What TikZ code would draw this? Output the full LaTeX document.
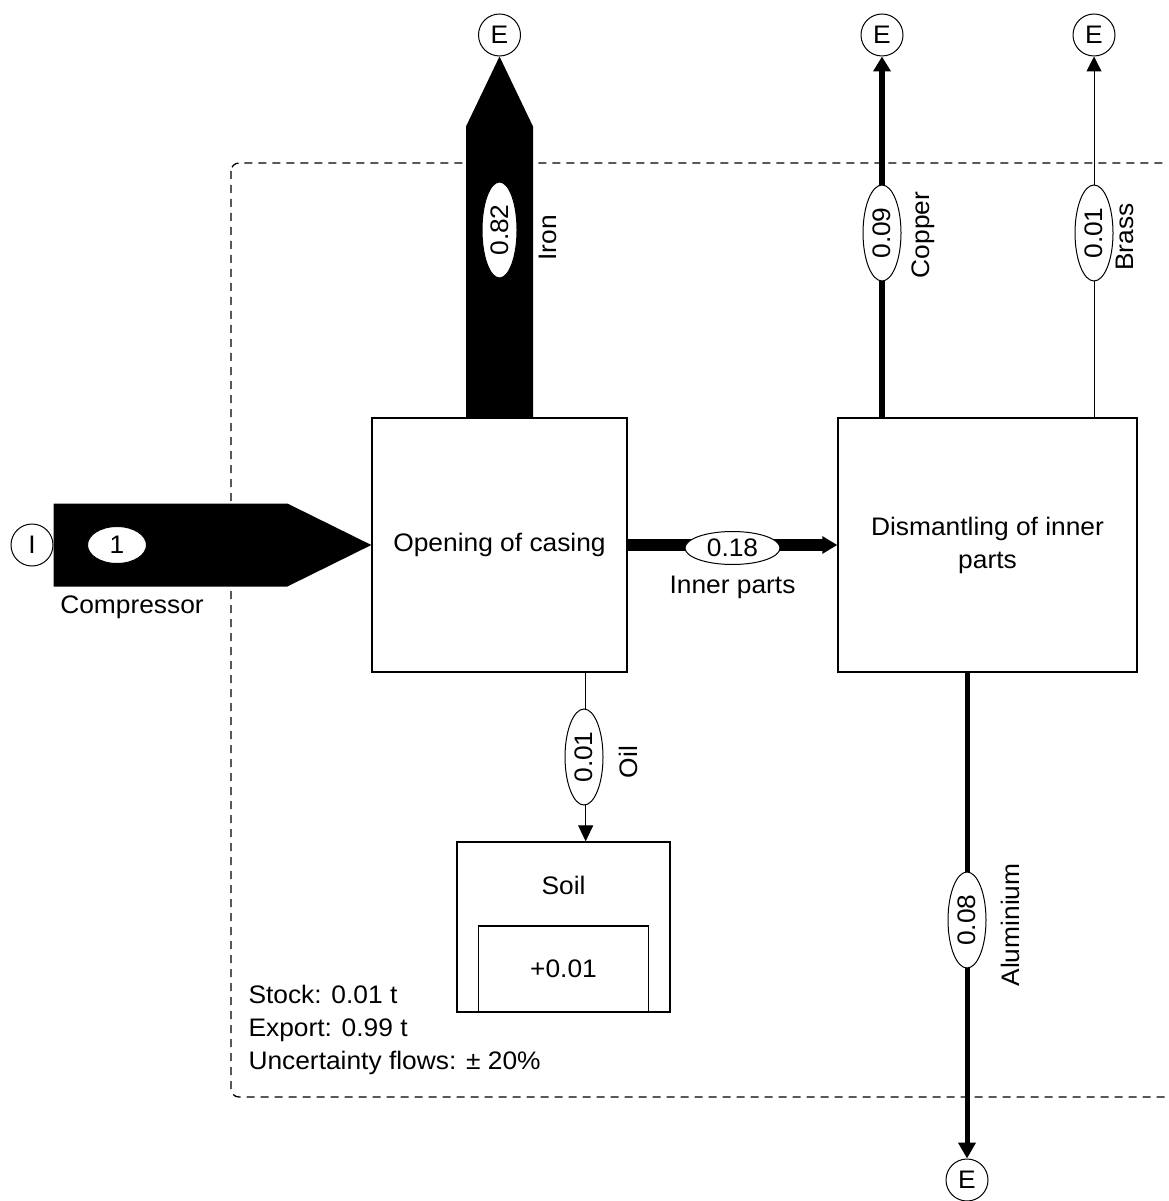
\documentclass[tikz,border=0pt]{standalone}
\usepackage{fontspec}
\setmainfont{Liberation Sans}[FakeStretch=1.04]
\usetikzlibrary{calc,shapes.geometric,arrows.meta}

\tikzset{every picture/.style={line width=0.75pt}}
\tikzset{
  txt/.style={font=\fontsize{19}{24.75}\selectfont},
  terminal/.style={draw, circle, minimum size=31.5pt, inner sep=0pt, txt},
  process/.style={draw, line width=1pt, rectangle, inner sep=0pt, align=center, txt},
  flowval/.style={draw, ellipse, fill=white, inner sep=0pt, txt},
  vflowval/.style={flowval, rotate=90, minimum width=72pt, minimum height=28.5pt},
  flowname/.style={inner sep=0.75pt, txt},
}

\begin{document}
\begin{tikzpicture}[x=0.75pt,y=0.75pt,yscale=-1,xscale=1]
\clip (0,0) rectangle (1168,1201);

%Shape: Rectangle [system boundary]
\draw [line width=1pt, dash pattern=on 6pt off 4.5pt, rounded corners=6pt] (231,163) rectangle (1200,1097);

%Shape: Rectangle [processes]
\node [process, minimum width=191.25pt, minimum height=190.5pt] (casing) at (499.5,545) {Opening of casing};
\node [process, minimum width=224.25pt, minimum height=190.5pt] (dismantle) at (987.5,545) {Dismantling of inner\\parts};
%Shape: Rectangle [soil with stock]
\node [process, minimum width=159.75pt, minimum height=127.5pt] (soil) at (563.5,927) {};
\node [process, minimum width=127.5pt, minimum height=64.5pt, anchor=south] (stock) at (soil.south) {+0.01};
\node [flowname] (soillabel) at (563.5,885) {Soil};

%Shape: Circle [import / export]
\node [terminal] (import) at (32,545) {I};
\node [terminal] (eiron) at (499.5,35) {E};
\node [terminal] (ecopper) at (882,35) {E};
\node [terminal] (ebrass) at (1094,35) {E};
\node [terminal] (ealu) at (967,1180) {E};

%Shape: Polygon [compressor]
\fill ($(import.east)+(0,-41.5)$) -- ($(casing.west)+(-84,-41.5)$) -- (casing.west) -- ($(casing.west)+(-84,41.5)$) -- ($(import.east)+(0,41.5)$) -- cycle ;
%Shape: Polygon [iron]
\fill ($(casing.north)+(-33.5,0)$) -- ($(eiron.south)+(-33.5,70)$) -- (eiron.south) -- ($(eiron.south)+(33.5,70)$) -- ($(casing.north)+(33.5,0)$) -- cycle ;

%Straight Lines [inner parts]
\draw [line width=9pt, -{Triangle[length=11.25pt,width=12.5pt]}] (casing.east) -- (dismantle.west) ;
%Straight Lines [copper]
\draw [line width=4.5pt, -{Triangle[length=11.25pt,width=12.75pt]}] (ecopper |- dismantle.north) -- (ecopper.south) ;
%Straight Lines [brass]
\draw [-{Triangle[length=11.25pt,width=11.25pt]}] (ebrass |- dismantle.north) -- (ebrass.south) ;
%Straight Lines [aluminium]
\draw [line width=3.75pt, -{Triangle[length=12pt,width=12.75pt]}] (ealu |- dismantle.south) -- (ealu.north) ;
%Straight Lines [oil]
\coordinate (oilout) at ($(casing.south east)+(-42,0)$);
\draw [-{Triangle[length=12pt,width=11.25pt]}] (oilout) -- (oilout |- soil.north) ;

% Flow values
\node [flowval, minimum width=44.25pt, minimum height=27.75pt] (vcomp) at (117,545) {1};
\node [vflowval, minimum height=26.25pt] (viron) at (499.5,230) {0.82};
\node [flowval, minimum width=71.25pt, minimum height=24.75pt] (vinner) at (732.5,548) {0.18};
\node [vflowval] (vcopper) at (882,233) {0.09};
\node [vflowval] (vbrass) at (1094,233) {0.01};
\node [vflowval] (voil) at (584,757) {0.01};
\node [vflowval] (valu) at (967,920) {0.08};

% Text Node
\node [flowname] (ncomp) at (132,607) {Compressor};
\node [flowname, rotate=90] (niron) at (548,238) {Iron};
\node [flowname] (ninner) at (732.5,587) {Inner parts};
\node [flowname, rotate=90] (ncopper) at (923,235) {Copper};
\node [flowname, rotate=90] (nbrass) at (1125,237) {Brass};
\node [flowname, rotate=90] (noil) at (628,762) {Oil};
\node [flowname, rotate=90] (nalu) at (1010,925) {Aluminium};
% Text Node
\node [flowname, anchor=west, align=left] (balance) at (247,1030) {Stock: 0.01 t\\Export: 0.99 t\\Uncertainty flows: ± 20\%};

\end{tikzpicture}
\end{document}
